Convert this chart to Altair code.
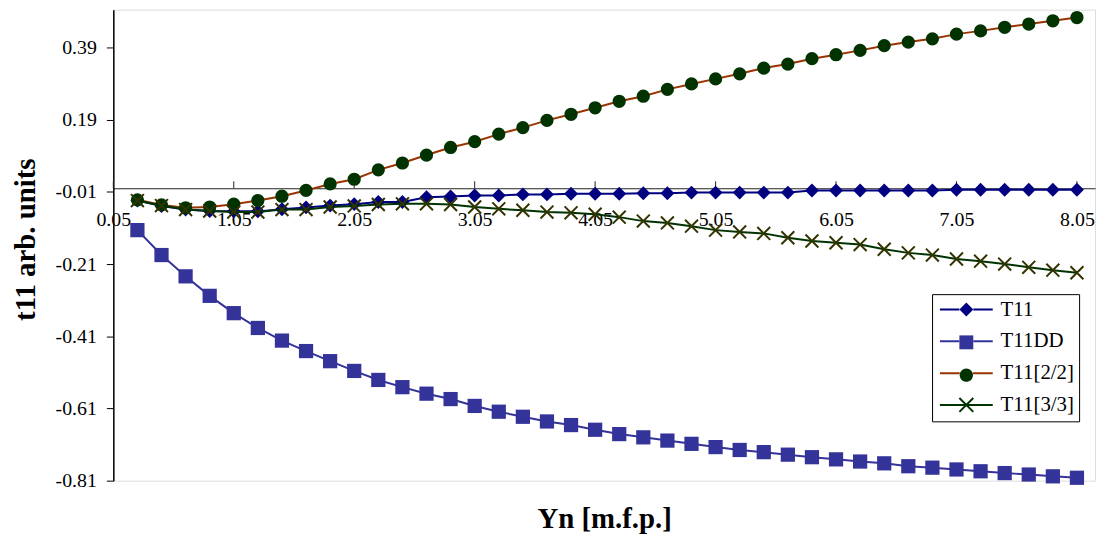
import altair as alt
import pandas as pd

# ---------------- data ----------------
x_vals = [0.25, 0.45, 0.65, 0.85, 1.05, 1.25, 1.45, 1.65, 1.85, 2.05,
          2.25, 2.45, 2.65, 2.85, 3.05, 3.25, 3.45, 3.65, 3.85, 4.05,
          4.25, 4.45, 4.65, 4.85, 5.05, 5.25, 5.45, 5.65, 5.85, 6.05,
          6.25, 6.45, 6.65, 6.85, 7.05, 7.25, 7.45, 7.65, 7.85, 8.05]

t11 = [-0.034, -0.049, -0.059, -0.063, -0.064, -0.064, -0.058, -0.053, -0.048, -0.044,
       -0.038, -0.038, -0.025, -0.023, -0.020, -0.020, -0.017, -0.017, -0.015, -0.015,
       -0.015, -0.014, -0.014, -0.012, -0.012, -0.012, -0.012, -0.012, -0.006, -0.006,
       -0.006, -0.006, -0.006, -0.006, -0.004, -0.004, -0.004, -0.004, -0.004, -0.004]

t11dd = [-0.116, -0.185, -0.244, -0.298, -0.346, -0.387, -0.422, -0.451, -0.479, -0.506,
         -0.531, -0.551, -0.569, -0.584, -0.603, -0.619, -0.633, -0.646, -0.656, -0.669,
         -0.681, -0.690, -0.699, -0.708, -0.717, -0.725, -0.731, -0.738, -0.745, -0.751,
         -0.757, -0.762, -0.770, -0.774, -0.779, -0.784, -0.789, -0.793, -0.798, -0.802]

t11_22 = [-0.032, -0.046, -0.054, -0.052, -0.044, -0.034, -0.022, -0.006, 0.012, 0.025,
          0.051, 0.070, 0.092, 0.113, 0.129, 0.150, 0.168, 0.188, 0.205, 0.223,
          0.241, 0.255, 0.274, 0.289, 0.303, 0.317, 0.333, 0.344, 0.359, 0.370,
          0.382, 0.395, 0.405, 0.414, 0.427, 0.436, 0.446, 0.455, 0.464, 0.473]

t11_33 = [-0.034, -0.048, -0.059, -0.063, -0.066, -0.066, -0.059, -0.059, -0.052, -0.049,
          -0.045, -0.043, -0.043, -0.045, -0.052, -0.057, -0.061, -0.066, -0.068, -0.072,
          -0.080, -0.091, -0.096, -0.105, -0.116, -0.121, -0.125, -0.137, -0.146, -0.151,
          -0.156, -0.169, -0.179, -0.185, -0.196, -0.202, -0.210, -0.219, -0.227, -0.234]

series_names = ["T11", "T11DD", "T11[2/2]", "T11[3/3]"]
marker_keys = ["m1", "m2", "m3", "m4"]
x_ticks = [0.05, 1.05, 2.05, 3.05, 4.05, 5.05, 6.05, 7.05, 8.05]
y_ticks = [-0.81, -0.61, -0.41, -0.21, -0.01, 0.19, 0.39]

# ---------------- styles ----------------
line_colors = ["#000080", "#333399", "#993300", "#003300"]
marker_colors = ["#000080", "#333399", "#003300", "#333300"]
X_PATH = "M-1,-1L1,1M-1,1L1,-1"
legend_line_paths = [
    "M-3.8,0L-1,0M1,0L3.8,0",
    "M-3.8,0L-1,0M1,0L3.8,0",
    "M-3.8,0L-0.95,0M0.95,0L3.8,0",
    "M-3.8,0L3.8,0M-1,-1L1,1M-1,1L1,-1",
]
legend_marker_paths = [
    "M0,-1L1,0L0,1L-1,0Z",
    "M-1,-1L1,-1L1,1L-1,1Z",
    "M-0.95,0A0.95,0.95 0 1,0 0.95,0A0.95,0.95 0 1,0 -0.95,0Z",
    "M-1,-1L1,1M-1,1L1,-1",
]
FONT = "Liberation Serif"
W, H = 988, 474
XMIN, XMAX = 0.05, 8.2
YMIN, YMAX = -0.81, 0.4947
x_axis_offset = -(0 - YMIN) / (YMAX - YMIN) * H

rows = []
for name, key, vals in zip(series_names, marker_keys, [t11, t11dd, t11_22, t11_33]):
    for xv, yv in zip(x_vals, vals):
        rows.append({"x": xv, "value": yv, "series": name, "mk": key})
df = pd.DataFrame(rows)
ticks_df = pd.DataFrame({"x": x_ticks, "value": [0.0] * len(x_ticks)})

xs = alt.Scale(domain=[XMIN, XMAX], nice=False, zero=False)
ys = alt.Scale(domain=[YMIN, YMAX], nice=False, zero=False)

x_axis = alt.Axis(
    values=x_ticks, format=".2f", orient="bottom", offset=x_axis_offset,
    ticks=False, tickSize=0, labelPadding=21, labelFlush=False, labelOverlap=False,
    domainColor="#222222", domainWidth=1, grid=False,
    labelFont=FONT, labelFontSize=20, labelColor="black",
    title="Yn [m.f.p.]", titleFont=FONT, titleFontSize=29, titleFontWeight="bold",
    titleColor="black", titleBaseline="alphabetic", titleX=W / 2, titleY=341,
)
y_axis = alt.Axis(
    values=y_ticks, labelExpr="replace(format(datum.value, '.2f'), '\u2212', '-')",
    tickSize=7, tickColor="black", tickWidth=1, domainColor="black", domainWidth=1.5,
    grid=False, labelPadding=10, labelFont=FONT, labelFontSize=20, labelColor="black",
    title="t11 arb. units", titleFont=FONT, titleFontSize=29, titleFontWeight="bold",
    titleColor="black", titleBaseline="alphabetic", titleX=-79, titleY=231,
)

X = alt.X("x:Q", scale=xs, axis=x_axis)
Y = alt.Y("value:Q", scale=ys, axis=y_axis)

layers = []
layers.append(
    alt.Chart(ticks_df).mark_tick(orient="vertical", size=7, thickness=1,
                                  color="#222222", yOffset=-3.5, opacity=1)
    .encode(x=X, y=Y)
)

marker_specs = [
    dict(shape="diamond", filled=True, size=196),
    dict(shape="square", filled=True, size=205),
    dict(shape="circle", filled=True, size=177),
    dict(shape=X_PATH, filled=False, size=169, strokeWidth=2),
]

for i, name in enumerate(series_names):
    sub = alt.Chart(df).transform_filter(alt.datum.series == name)
    layers.append(sub.mark_line(color=line_colors[i], strokeWidth=2).encode(x=X, y=Y))
    spec = marker_specs[i]
    layers.append(
        sub.mark_point(color=marker_colors[i], opacity=1, **spec).encode(x=X, y=Y)
    )

LX, LY = 824.0, 286.3
common = dict(
    title=None, orient="none", legendX=LX, legendY=LY, padding=5,
    symbolSize=196, symbolStrokeWidth=2, symbolOffset=19, labelOffset=24,
    labelFont=FONT, labelFontSize=21, rowPadding=10, symbolOpacity=1,
)
legend_lines = alt.Legend(strokeColor="black", labelColor="black", **common)
legend_marks = alt.Legend(labelColor="black", labelExpr="''", **common)

legend_line_layer = (
    alt.Chart(df).transform_filter("false")
    .mark_point(filled=False, opacity=1, strokeWidth=2, size=196)
    .encode(
        stroke=alt.Stroke("series:N", scale=alt.Scale(domain=series_names, range=line_colors),
                          legend=legend_lines),
        shape=alt.Shape("series:N", scale=alt.Scale(domain=series_names, range=legend_line_paths),
                        legend=legend_lines),
    )
)
legend_marker_layer = (
    alt.Chart(df).transform_filter("false")
    .mark_point(filled=True, opacity=1, size=196)
    .encode(
        fill=alt.Fill("mk:N", scale=alt.Scale(domain=marker_keys, range=marker_colors),
                      legend=legend_marks),
        shape=alt.Shape("mk:N", scale=alt.Scale(domain=marker_keys, range=legend_marker_paths),
                        legend=legend_marks),
    )
)
layers.append(legend_line_layer)
layers.append(legend_marker_layer)

chart = (
    alt.layer(*layers)
    .resolve_scale(shape="independent", fill="independent", stroke="independent")
    .resolve_legend(shape="independent", fill="independent", stroke="independent")
    .properties(
        width=W, height=H,
        autosize=alt.AutoSizeParams(type="none"),
        padding={"left": 106, "top": 0, "right": 1, "bottom": 54},
        background="white",
    )
    .configure_view(stroke="#888888", strokeWidth=2)
    .configure(font=FONT)
)

chart.save("out.html", embed_options={"renderer": "svg", "actions": False})
